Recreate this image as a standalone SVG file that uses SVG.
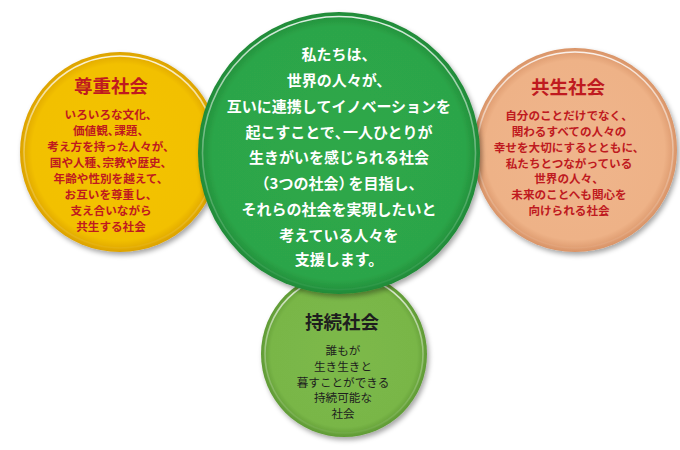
<svg xmlns="http://www.w3.org/2000/svg" width="680" height="450" viewBox="0 0 680 450">
<style>
.t{font-family:"Noto Sans CJK JP","Noto Sans",sans-serif;text-anchor:middle;font-weight:700}
.ttl{font-size:18.5px}
.body{font-size:11.6px}
.red{fill:#bf1a1f}
.wh{fill:#ffffff;font-size:15px}
.dk{fill:#1e1e1e}
.hl{fill:none;stroke:url(#hlg);stroke-width:1.6}
.c{letter-spacing:-0.45em}
</style>
<defs>
<filter id="sh" x="-20%" y="-20%" width="140%" height="140%">
<feDropShadow dx="2" dy="3" stdDeviation="2.5" flood-color="#000" flood-opacity="0.35"/>
</filter>
<radialGradient id="gy"><stop offset="0" stop-color="#f3c300"/><stop offset="0.88" stop-color="#f2c000"/><stop offset="1" stop-color="#dca200"/></radialGradient>
<radialGradient id="gg"><stop offset="0" stop-color="#2ea84a"/><stop offset="0.9" stop-color="#2ca548"/><stop offset="1" stop-color="#1f8a38"/></radialGradient>
<radialGradient id="go"><stop offset="0" stop-color="#efb58c"/><stop offset="0.88" stop-color="#eeb287"/><stop offset="1" stop-color="#d99468"/></radialGradient>
<radialGradient id="gl"><stop offset="0" stop-color="#7cb94a"/><stop offset="0.88" stop-color="#79b647"/><stop offset="1" stop-color="#5f9a35"/></radialGradient>
<linearGradient id="hlg" x1="0" y1="0" x2="0" y2="1">
<stop offset="0" stop-color="#fff" stop-opacity="0.85"/>
<stop offset="0.5" stop-color="#fff" stop-opacity="0.3"/>
<stop offset="1" stop-color="#fff" stop-opacity="0.05"/>
</linearGradient>
</defs>
<g id="connectors"></g>
<g id="sonchou">
<circle cx="120" cy="152" r="100" fill="url(#gy)" filter="url(#sh)"/>
<circle cx="120" cy="152" r="96" class="hl"/>
<text class="t ttl red" x="111" y="93">尊重社会</text>
<g class="t body red">
<text x="111" y="118.5">いろいろな文化、</text>
<text x="111" y="134.5">価値観<tspan class="c">、</tspan>課題、</text>
<text x="111" y="151">考え方を持った人々が、</text>
<text x="111" y="167">国や人種<tspan class="c">、</tspan>宗教や歴史、</text>
<text x="111" y="183">年齢や性別を越えて、</text>
<text x="111" y="199">お互いを尊重し、</text>
<text x="111" y="215">支え合いながら</text>
<text x="111" y="231">共生する社会</text>
</g>
</g>
<g id="kyousei">
<circle cx="575" cy="150" r="102" fill="url(#go)" filter="url(#sh)"/>
<circle cx="575" cy="150" r="98" class="hl"/>
<text class="t ttl red" x="568" y="94">共生社会</text>
<g class="t body red">
<text x="569" y="119.5">自分のことだけでなく、</text>
<text x="569" y="135.5">関わるすべての人々の</text>
<text x="569" y="151.5">幸せを大切にするとともに、</text>
<text x="569" y="167.5">私たちとつながっている</text>
<text x="569" y="183">世界の人々、</text>
<text x="569" y="199">未来のことへも関心を</text>
<text x="569" y="215">向けられる社会</text>
</g>
</g>
<g id="jizoku">
<circle cx="344" cy="354" r="83" fill="url(#gl)" filter="url(#sh)"/>
<circle cx="344" cy="354" r="79" class="hl"/>
<text class="t ttl dk" x="342" y="329">持続社会</text>
<g class="t body dk" style="font-weight:400">
<text x="343" y="354.5">誰もが</text>
<text x="343" y="370.5">生き生きと</text>
<text x="343" y="386.5">暮すことができる</text>
<text x="343" y="401.5">持続可能な</text>
<text x="343" y="417.5">社会</text>
</g>
</g>
<g id="center">
<circle cx="339" cy="153" r="141" fill="url(#gg)" filter="url(#sh)"/>
<circle cx="339" cy="153" r="136.5" class="hl"/>
<g class="t wh">
<text x="339" y="59.5">私たちは、</text>
<text x="339" y="85.5">世界の人々が、</text>
<text x="339" y="111.5">互いに連携してイノベーションを</text>
<text x="339" y="137.5">起こすことで<tspan class="c">、</tspan>一人ひとりが</text>
<text x="339" y="162.5">生きがいを感じられる社会</text>
<text x="339" y="188.5">（3つの社会）<tspan dx="-5">を目指し、</tspan></text>
<text x="339" y="214.5">それらの社会を実現したいと</text>
<text x="339" y="240.5">考えている人々を</text>
<text x="339" y="264.5">支援します。</text>
</g>
</g>
</svg>
